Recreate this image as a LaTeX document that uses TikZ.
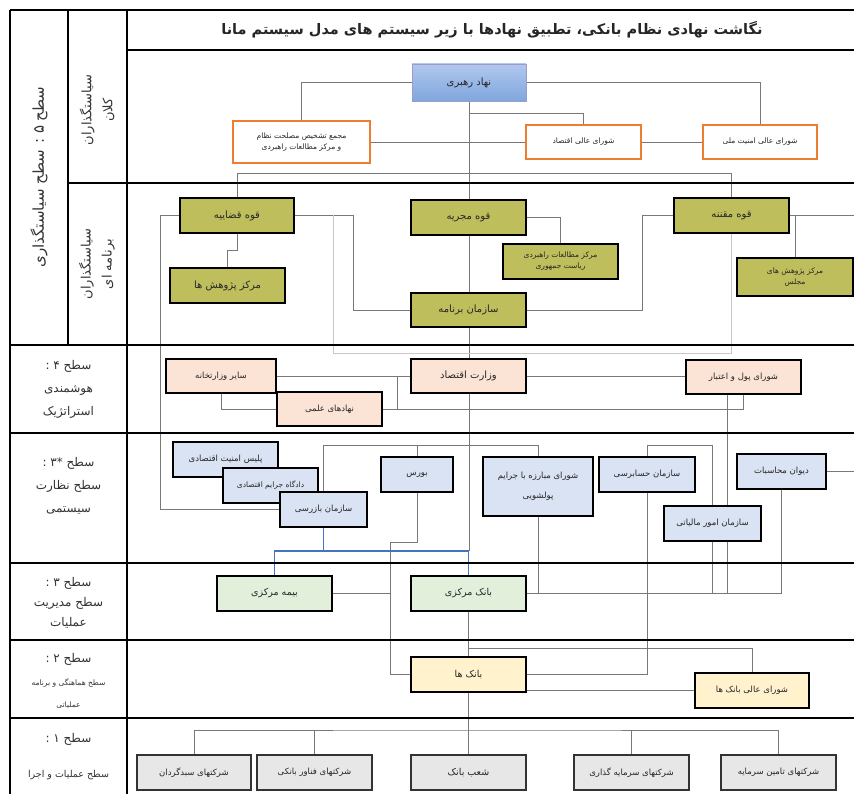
\documentclass[tikz,border=0pt]{standalone}
\usepackage{fontspec}
\setmainfont{DejaVu Sans}
\newfontfamily\fafont[Script=Arabic]{DejaVu Sans}
\TeXXeTstate=1
\newcommand{\fatx}[1]{{\fafont\beginR #1\endR}}
\pgfdeclarelayer{bg}
\pgfsetlayers{bg,main}
\definecolor{olivec}{RGB}{191,190,92}
\definecolor{orangec}{RGB}{237,125,49}
\definecolor{peachc}{RGB}{251,228,213}
\definecolor{lbluec}{RGB}{218,227,243}
\definecolor{lgreenc}{RGB}{226,239,218}
\definecolor{lyelc}{RGB}{255,242,204}
\definecolor{lgrayc}{RGB}{231,231,231}
\definecolor{blueln}{RGB}{68,114,196}
\definecolor{conc}{RGB}{120,120,120}
\definecolor{faintc}{RGB}{200,200,200}
\tikzset{
  sz/.style 2 args={minimum width=#1pt, minimum height=#2pt},
  bx/.style={draw=black, line width=1.3pt, inner sep=1pt, align=center, outer sep=0pt, text=black!85, font=\fontsize{8.5}{12}\selectfont},
  rahb/.style={bx, draw=blue!30!gray!60, line width=0.8pt, top color={rgb,255:red,176;green,200;blue,238}, bottom color={rgb,255:red,128;green,166;blue,222}, font=\fontsize{10}{12}\selectfont},
  orb/.style={bx, draw=orangec, line width=1.3pt, fill=white, font=\fontsize{7.5}{11}\selectfont},
  olv/.style={bx, fill=olivec, line width=1.6pt, font=\fontsize{10}{12}\selectfont},
  olvs/.style={olv, font=\fontsize{7.5}{11}\selectfont},
  lfour/.style={bx, fill=peachc},
  lthree/.style={bx, fill=lbluec},
  lgreen/.style={bx, fill=lgreenc, font=\fontsize{9.5}{12}\selectfont},
  lyel/.style={bx, fill=lyelc},
  lone/.style={bx, fill=lgrayc, draw=black!80},
  con/.style={draw=conc, line width=0.6pt},
  faint/.style={draw=faintc, line width=0.6pt},
  blueline/.style={draw=blueln, line width=1.6pt},
  frame/.style={line width=2pt, draw=black},
  lvl/.style={align=center, text=black!80, font=\fontsize{12}{23}\selectfont},
  lvlrot/.style={lvl, rotate=90}
}
\begin{document}
\begin{tikzpicture}[x=1pt,y=-1pt]
\useasboundingbox (0,0) rectangle (854,794);

% ---------- title ----------
\node[font=\bfseries\fontsize{14.5}{16}\selectfont, text=black!85] (title) at (492,30) {\fatx{نگاشت نهادی نظام بانکی، تطبیق نهادها با زیر سیستم های مدل سیستم مانا}};

% ---------- left column labels ----------
\node[lvlrot, font=\fontsize{15}{18}\selectfont] (l5) at (39,177) {\fatx{سطح ۵ : سطح سیاستگذاری}};
\node[lvlrot, font=\fontsize{13}{21}\selectfont] (l5a) at (97,110) {\fatx{سیاستگذاران}\\\fatx{کلان}};
\node[lvlrot, font=\fontsize{13}{21}\selectfont] (l5b) at (97,264) {\fatx{سیاستگذاران}\\\fatx{برنامه ای}};
\node[lvl] (l4) at (68.5,389) {\fatx{سطح ۴ :}\\\fatx{هوشمندی}\\\fatx{استراتژیک}};
\node[lvl] (l3s) at (68.5,486) {\fatx{سطح *۳ :}\\\fatx{سطح نظارت}\\\fatx{سیستمی}};
\node[lvl, font=\fontsize{12}{20}\selectfont] (l3) at (68.5,603) {\fatx{سطح ۳ :}\\\fatx{سطح مدیریت}\\\fatx{عملیات}};
\node[lvl] (l2) at (68.5,659) {\fatx{سطح ۲ :}};
\node[lvl, font=\fontsize{7.5}{22}\selectfont] (l2b) at (68.5,694) {\fatx{سطح هماهنگی و برنامه}\\\fatx{عملیاتی}};
\node[lvl] (l1) at (68.5,739) {\fatx{سطح ۱ :}};
\node[lvl, font=\fontsize{9.5}{12}\selectfont] (l1b) at (68.5,775) {\fatx{سطح عملیات و اجرا}};

% ---------- boxes: level 5 macro ----------
\node[rahb, sz={114}{37}] (rahbari) at (469,82.5) {\fatx{نهاد رهبری}};
\node[orb, sz={137}{42}] (majma) at (301.5,142) {\fatx{مجمع تشخیص مصلحت نظام}\\\fatx{و مرکز مطالعات راهبردی}};
\node[orb, sz={115}{34}] (eqtesad) at (583.5,142) {\fatx{شورای عالی اقتصاد}};
\node[orb, sz={114}{34}] (amniat) at (760,142) {\fatx{شورای عالی امنیت ملی}};

% ---------- level 5 program ----------
\node[olv, sz={114}{35}] (qazaiye) at (237,215.5) {\fatx{قوه قضاییه}};
\node[olv, sz={115}{35}] (mojriye) at (468.5,217.5) {\fatx{قوه مجریه}};
\node[olv, sz={115}{35}] (moghanne) at (731.5,215.5) {\fatx{قوه مقننه}};
\node[olv, sz={115}{35}] (pazhuhesh) at (227.5,285.5) {\fatx{مرکز پژوهش ها}};
\node[olvs, sz={115}{35}] (motaleat) at (560.5,261.5) {\fatx{مرکز مطالعات راهبردی}\\\fatx{ریاست جمهوری}};
\node[olvs, sz={116}{38}] (majles) at (795,277) {\fatx{مرکز پژوهش های}\\\fatx{مجلس}};
\node[olv, sz={115}{34}] (barname) at (468.5,310) {\fatx{سازمان برنامه}};

% ---------- level 4 ----------
\node[lfour, sz={110}{34}] (sayer) at (221,376) {\fatx{سایر وزارتخانه}};
\node[lfour, sz={105}{34}] (elmi) at (329.5,409) {\fatx{نهادهای علمی}};
\node[lfour, sz={115}{34}, font=\fontsize{10}{12}\selectfont] (vezarat) at (468.5,376) {\fatx{وزارت اقتصاد}};
\node[lfour, sz={115}{34}] (pul) at (743.5,377) {\fatx{شورای پول و اعتبار}};

% ---------- level 3* ----------
\node[lthree, sz={105}{35}] (police) at (225.5,459.5) {\fatx{پلیس امنیت اقتصادی}};
\node[lthree, sz={95}{35}, font=\fontsize{7.5}{11}\selectfont] (dadgah) at (270.5,485.5) {\fatx{دادگاه جرایم اقتصادی}};
\node[lthree, sz={87}{35}] (bazresi) at (323.5,509.5) {\fatx{سازمان بازرسی}};
\node[lthree, sz={72}{35}] (burs) at (417,474.5) {\fatx{بورس}};
\node[lthree, sz={110}{59}, font=\fontsize{8.5}{20}\selectfont] (mobareze) at (538,486.5) {\fatx{شورای مبارزه با جرایم}\\\fatx{پولشویی}};
\node[lthree, sz={96}{35}] (hesabrasi) at (647,474.5) {\fatx{سازمان حسابرسی}};
\node[lthree, sz={97}{35}] (maliati) at (712.5,523.5) {\fatx{سازمان امور مالیاتی}};
\node[lthree, sz={89}{35}] (divan) at (781.5,471.5) {\fatx{دیوان محاسبات}};

% ---------- level 3 ----------
\node[lgreen, sz={115}{35}] (bime) at (274.5,593.5) {\fatx{بیمه مرکزی}};
\node[lgreen, sz={115}{35}] (bankmarkazi) at (468.5,593.5) {\fatx{بانک مرکزی}};

% ---------- level 2 ----------
\node[lyel, sz={115}{35}, font=\fontsize{9.5}{12}\selectfont] (bankha) at (468.5,674.5) {\fatx{بانک ها}};
\node[lyel, sz={114}{35}] (shorabank) at (752,690.5) {\fatx{شورای عالی بانک ها}};

% ---------- level 1 ----------
\node[lone, sz={114}{35}] (sabad) at (194,772.5) {\fatx{شرکتهای سبدگردان}};
\node[lone, sz={115}{35}] (fanavar) at (314.5,772.5) {\fatx{شرکتهای فناور بانکی}};
\node[lone, sz={115}{35}, font=\fontsize{9.5}{12}\selectfont] (shoab) at (468.5,772.5) {\fatx{شعب بانک}};
\node[lone, sz={115}{35}] (sarmaye) at (631.5,772.5) {\fatx{شرکتهای سرمایه گذاری}};
\node[lone, sz={115}{35}] (tamin) at (778.5,772.5) {\fatx{شرکتهای تامین سرمایه}};

% ---------- frame ----------
\draw[frame] (10,10) -- (854,10);
\draw[frame] (10,10) -- (10,794);
\draw[frame] (127,10) -- (127,794);
\draw[frame] (68,10) -- (68,345);
\draw[frame] (127,50) -- (854,50);
\draw[frame] (68,183) -- (854,183);
\foreach \yy in {345,433,563,640,718} { \draw[frame] (10,\yy) -- (854,\yy); }

% ---------- connectors (background layer) ----------
\begin{pgfonlayer}{bg}
\fill[white] (0,0) rectangle (854,794);
\coordinate (qe) at ([xshift=39pt]qazaiye.east);
\coordinate (bx) at ([xshift=-21pt]bankha.west);
\coordinate (bj) at ([yshift=-24pt]bazresi.south);
\coordinate (by) at ([yshift=-38pt]bankha.south);
% level 5 macro
\draw[con] (rahbari.west) -| (majma.north);
\draw[con] (rahbari.east) -| (amniat.north);
\draw[con] (rahbari.south) -- (rahbari.south |- bj);
\draw[con] ([yshift=-12pt]rahbari.south) -| (eqtesad.north);
\draw[con] (majma.east) -- (eqtesad.west);
\draw[con] (eqtesad.east) -- (amniat.west);
\draw[con] (qazaiye.north) -- ++(0,-25) -| (moghanne.north);
% level 5 program
\draw[con] (qazaiye.south) -- ++(0,17) -| (pazhuhesh.north);
\draw[con] (qazaiye.west) -- ++(-20,0) |- (bazresi.west);
\draw[con] (qazaiye.east) -- ++(59,0) |- (barname.west);
\draw[faint] (moghanne.south) -- ++(0,120) -| (qe);
\draw[con] (mojriye.east) -| (motaleat.north);
\draw[con] (moghanne.west) -- ++(-32,0) |- (barname.east);
\draw[con] (majles.north) |- (moghanne.east);
\draw[con] (moghanne.east) -- ++(65,0);
% level 4
\draw[con] (vezarat.west) -- (sayer.east);
\draw[con] (vezarat.east) -- (vezarat.east -| pul.west);
\draw[con] (elmi.east) -| ([xshift=-14pt]vezarat.west);
\draw[con] (elmi.east) -| (pul.south);
\draw[con] (sayer.south) |- (elmi.west);
\draw[con] ([xshift=-16.5pt]pul.south) |- (bankmarkazi.east);
% level 3*
\draw[con] (divan.south) |- (bankmarkazi.east);
\draw[con] (mobareze.south) -- (mobareze.south |- bankmarkazi.east);
\draw[con] (maliati.south) -- (maliati.south |- bankmarkazi.east);
\draw[con] (bazresi.north) -- ++(0,-47) -| (mobareze.north);
\draw[con] (burs.north) -- ++(0,-12);
\draw[con] (maliati.north) |- ([yshift=12pt]hesabrasi.north) -- (hesabrasi.north |- bankha.east) -- (bankha.east);
\draw[con] (divan.east) -- ++(28,0);
\draw[con] (burs.south) -- ++(0,50) -| (bx) -- (bankha.west);
\draw[con] (bime.east) -- (bime.east -| bx);
% blue
\draw[blueline] (bazresi.south) -- (bj);
\draw[blueline] (bime.north) |- (bj) -| (bankmarkazi.north);
% level 2
\draw[con] (bankmarkazi.south) -- (bankha.north);
\draw[con] ([yshift=-37pt]bankmarkazi.south) -| (shorabank.north);
\draw[con] ([yshift=-15.5pt]bankha.east) -- ([yshift=-15.5pt]bankha.east -| shorabank.west);
% level 1
\draw[con] (bankha.south) -- (shoab.north);
\draw[con] (sabad.north) |- (by) -| (tamin.north);
\draw[con] (fanavar.north) -- (fanavar.north |- by);
\draw[con] (sarmaye.north) -- (sarmaye.north |- by);
\end{pgfonlayer}
\end{tikzpicture}
\end{document}
